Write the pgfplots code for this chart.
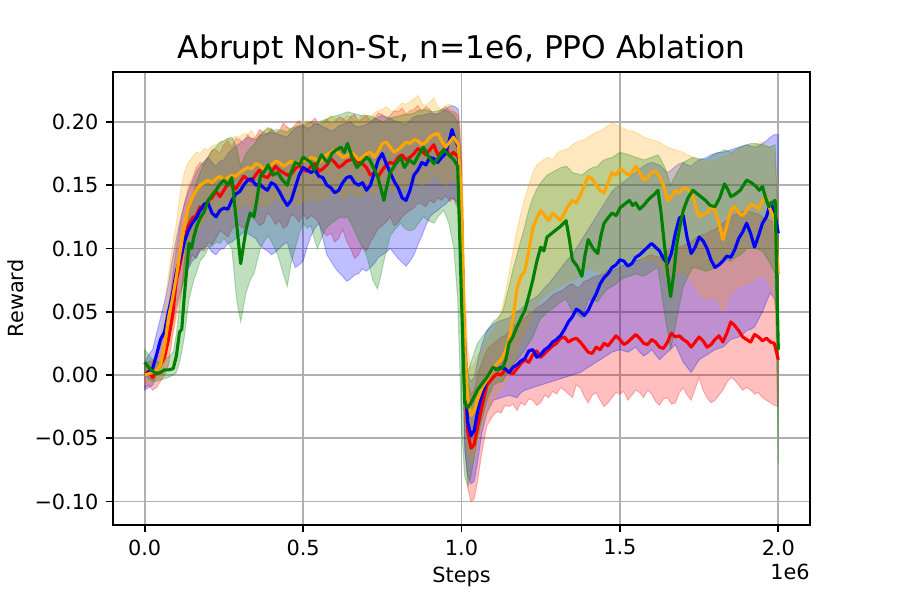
\documentclass[border=0pt]{standalone}
\usepackage{fontspec}
\setmainfont{DejaVu Sans}
\usepackage{pgfplots}
\usepackage{pgfplotstable}
\usepgfplotslibrary{fillbetween}
\pgfplotsset{compat=1.18}

\definecolor{mplorange}{RGB}{255,165,0}
\definecolor{mplgreen}{RGB}{0,128,0}
\definecolor{gridgray}{RGB}{176,176,176}

% columns: step (1e6), mean, lower band, upper band
\pgfplotstableread{
x m lo hi
0.000 0.000 -0.010 0.008
0.0125 0.003 -0.008 0.011
0.025 -0.002 -0.012 0.010
0.0375 0.004 -0.010 0.018
0.050 0.008 -0.005 0.022
0.0625 0.014 0.000 0.034
0.075 0.028 0.008 0.050
0.0875 0.046 0.030 0.078
0.100 0.075 0.050 0.100
0.1125 0.088 0.062 0.120
0.125 0.106 0.080 0.135
0.1375 0.118 0.085 0.148
0.150 0.124 0.095 0.155
0.1625 0.126 0.092 0.164
0.175 0.133 0.100 0.168
0.1875 0.131 0.098 0.166
0.200 0.138 0.105 0.172
0.2125 0.140 0.103 0.178
0.225 0.145 0.108 0.178
0.2375 0.141 0.114 0.175
0.250 0.146 0.112 0.182
0.2625 0.151 0.109 0.185
0.275 0.150 0.115 0.180
0.2875 0.147 0.119 0.187
0.300 0.152 0.118 0.186
0.3125 0.157 0.116 0.183
0.325 0.155 0.120 0.190
0.3375 0.153 0.126 0.186
0.350 0.158 0.122 0.188
0.3625 0.162 0.118 0.194
0.375 0.157 0.120 0.192
0.3875 0.156 0.128 0.190
0.400 0.160 0.125 0.195
0.4125 0.165 0.119 0.191
0.425 0.162 0.122 0.193
0.4375 0.160 0.116 0.199
0.450 0.158 0.118 0.196
0.4625 0.159 0.127 0.194
0.475 0.163 0.125 0.198
0.4875 0.166 0.121 0.201
0.500 0.162 0.128 0.196
0.5125 0.161 0.123 0.199
0.525 0.165 0.126 0.200
0.5375 0.167 0.124 0.203
0.550 0.161 0.120 0.198
0.5625 0.163 0.113 0.199
0.575 0.166 0.110 0.202
0.5875 0.171 0.112 0.198
0.600 0.168 0.105 0.200
0.6125 0.164 0.108 0.204
0.625 0.166 0.115 0.203
0.6375 0.169 0.106 0.200
0.650 0.170 0.100 0.204
0.6625 0.173 0.092 0.206
0.675 0.168 0.095 0.200
0.6875 0.167 0.102 0.203
0.700 0.164 0.098 0.205
0.7125 0.158 0.105 0.201
0.725 0.160 0.110 0.203
0.7375 0.157 0.116 0.207
0.750 0.162 0.118 0.206
0.7625 0.166 0.121 0.203
0.775 0.168 0.125 0.205
0.7875 0.167 0.118 0.209
0.800 0.172 0.120 0.208
0.8125 0.174 0.125 0.211
0.825 0.170 0.128 0.206
0.8375 0.172 0.130 0.209
0.850 0.175 0.132 0.210
0.8625 0.179 0.136 0.213
0.875 0.177 0.135 0.208
0.8875 0.174 0.133 0.212
0.900 0.178 0.138 0.210
0.9125 0.182 0.136 0.205
0.925 0.174 0.140 0.207
0.9375 0.176 0.138 0.210
0.950 0.180 0.142 0.212
0.9625 0.173 0.137 0.209
0.975 0.176 0.140 0.208
0.990 0.172 0.130 0.205
1.000 0.120 0.060 0.170
1.010 0.000 -0.050 0.050
1.020 -0.045 -0.090 -0.005
1.030 -0.058 -0.100 -0.015
1.040 -0.055 -0.098 -0.012
1.050 -0.042 -0.085 0.000
1.065 -0.025 -0.060 0.010
1.080 -0.008 -0.040 0.020
1.100 -0.002 -0.032 0.025
1.1125 0.001 -0.029 0.027
1.125 0.000 -0.030 0.030
1.1375 0.004 -0.024 0.031
1.150 0.002 -0.025 0.035
1.1625 0.001 -0.023 0.039
1.175 0.005 -0.028 0.040
1.1875 0.009 -0.022 0.042
1.200 0.012 -0.024 0.045
1.2125 0.010 -0.019 0.048
1.225 0.016 -0.020 0.050
1.2375 0.019 -0.024 0.053
1.250 0.014 -0.022 0.055
1.2625 0.017 -0.016 0.057
1.275 0.020 -0.018 0.060
1.2875 0.023 -0.013 0.063
1.300 0.025 -0.015 0.065
1.3125 0.029 -0.010 0.066
1.325 0.030 -0.012 0.068
1.3375 0.026 -0.015 0.071
1.350 0.028 -0.018 0.072
1.3625 0.029 -0.008 0.069
1.375 0.026 -0.010 0.070
1.3875 0.022 -0.017 0.074
1.400 0.018 -0.022 0.075
1.4125 0.017 -0.016 0.077
1.425 0.022 -0.014 0.078
1.4375 0.020 -0.020 0.079
1.450 0.025 -0.025 0.080
1.4625 0.023 -0.022 0.083
1.475 0.027 -0.018 0.082
1.4875 0.031 -0.014 0.084
1.500 0.028 -0.015 0.085
1.5125 0.024 -0.013 0.087
1.525 0.026 -0.020 0.088
1.5375 0.029 -0.016 0.089
1.550 0.032 -0.012 0.090
1.5625 0.029 -0.014 0.091
1.575 0.025 -0.018 0.092
1.5875 0.024 -0.012 0.094
1.600 0.028 -0.015 0.095
1.6125 0.026 -0.021 0.094
1.625 0.022 -0.024 0.093
1.6375 0.021 -0.019 0.096
1.650 0.026 -0.018 0.098
1.6625 0.033 -0.023 0.099
1.675 0.030 -0.022 0.100
1.6875 0.031 -0.014 0.101
1.700 0.028 -0.010 0.102
1.7125 0.026 -0.016 0.104
1.725 0.022 -0.020 0.105
1.7375 0.026 -0.011 0.108
1.750 0.030 -0.002 0.110
1.7625 0.027 -0.012 0.111
1.775 0.022 -0.018 0.112
1.7875 0.024 -0.022 0.114
1.800 0.028 -0.020 0.115
1.8125 0.031 -0.016 0.118
1.825 0.026 -0.012 0.120
1.8375 0.033 -0.006 0.122
1.850 0.042 -0.002 0.125
1.8625 0.039 -0.004 0.127
1.875 0.035 -0.008 0.128
1.8875 0.030 -0.012 0.129
1.900 0.028 -0.010 0.130
1.9125 0.026 -0.012 0.129
1.925 0.032 -0.015 0.128
1.9375 0.030 -0.014 0.127
1.950 0.027 -0.018 0.125
1.9625 0.029 -0.020 0.124
1.975 0.026 -0.022 0.122
1.9875 0.025 -0.024 0.120
2.000 0.012 -0.025 0.110
}\redrun

\pgfplotstableread{
x m lo hi
0.000 0.000 -0.012 0.010
0.0125 0.002 -0.010 0.016
0.025 0.005 -0.008 0.020
0.0375 0.016 0.000 0.033
0.050 0.028 0.010 0.045
0.0625 0.034 0.020 0.058
0.075 0.050 0.028 0.072
0.0875 0.064 0.041 0.092
0.100 0.082 0.055 0.108
0.1125 0.092 0.066 0.123
0.125 0.105 0.075 0.135
0.1375 0.114 0.084 0.145
0.150 0.120 0.090 0.152
0.1625 0.124 0.093 0.160
0.175 0.130 0.098 0.165
0.1875 0.135 0.101 0.169
0.200 0.136 0.102 0.172
0.2125 0.128 0.097 0.168
0.225 0.125 0.095 0.165
0.2375 0.130 0.099 0.169
0.250 0.132 0.100 0.170
0.2625 0.131 0.104 0.175
0.275 0.138 0.105 0.178
0.2875 0.143 0.108 0.181
0.300 0.145 0.110 0.183
0.3125 0.150 0.113 0.186
0.325 0.154 0.112 0.188
0.3375 0.155 0.110 0.187
0.350 0.150 0.108 0.186
0.3625 0.151 0.103 0.189
0.375 0.148 0.100 0.190
0.3875 0.146 0.098 0.191
0.400 0.152 0.095 0.192
0.4125 0.150 0.097 0.191
0.425 0.145 0.100 0.190
0.4375 0.139 0.103 0.189
0.450 0.134 0.105 0.188
0.4625 0.138 0.094 0.192
0.475 0.148 0.085 0.195
0.4875 0.158 0.087 0.196
0.500 0.164 0.090 0.197
0.5125 0.162 0.101 0.195
0.525 0.160 0.110 0.196
0.5375 0.162 0.116 0.199
0.550 0.157 0.120 0.198
0.5625 0.156 0.108 0.196
0.575 0.150 0.095 0.195
0.5875 0.148 0.090 0.193
0.600 0.144 0.085 0.194
0.6125 0.146 0.081 0.197
0.625 0.152 0.078 0.198
0.6375 0.156 0.074 0.199
0.650 0.157 0.076 0.200
0.6625 0.152 0.079 0.197
0.675 0.150 0.080 0.196
0.6875 0.152 0.084 0.197
0.700 0.146 0.082 0.198
0.7125 0.150 0.085 0.200
0.725 0.160 0.088 0.202
0.7375 0.170 0.093 0.204
0.750 0.175 0.095 0.205
0.7625 0.167 0.097 0.204
0.775 0.160 0.100 0.203
0.7875 0.153 0.096 0.201
0.800 0.148 0.092 0.200
0.8125 0.140 0.089 0.199
0.825 0.138 0.086 0.198
0.8375 0.146 0.090 0.201
0.850 0.158 0.095 0.204
0.8625 0.162 0.103 0.205
0.875 0.168 0.110 0.205
0.8875 0.166 0.118 0.206
0.900 0.172 0.125 0.207
0.9125 0.171 0.128 0.207
0.925 0.168 0.130 0.206
0.9375 0.172 0.133 0.208
0.950 0.175 0.135 0.210
0.960 0.184 0.138 0.212
0.970 0.194 0.140 0.213
0.980 0.186 0.138 0.212
0.990 0.180 0.135 0.210
1.000 0.120 0.050 0.170
1.010 0.000 -0.060 0.050
1.020 -0.038 -0.080 0.000
1.030 -0.048 -0.086 -0.005
1.040 -0.044 -0.084 -0.002
1.050 -0.030 -0.070 0.010
1.065 -0.015 -0.045 0.025
1.080 -0.004 -0.030 0.035
1.100 0.006 -0.020 0.040
1.1125 0.004 -0.019 0.042
1.125 0.006 -0.018 0.043
1.1375 0.005 -0.017 0.044
1.150 0.002 -0.016 0.045
1.1625 0.006 -0.017 0.048
1.175 0.008 -0.018 0.050
1.1875 0.011 -0.014 0.052
1.200 0.013 -0.012 0.055
1.2125 0.019 -0.011 0.058
1.225 0.020 -0.010 0.060
1.2375 0.014 -0.009 0.062
1.250 0.016 -0.008 0.065
1.2625 0.020 -0.007 0.069
1.275 0.022 -0.006 0.072
1.2875 0.026 -0.005 0.076
1.300 0.028 -0.004 0.080
1.3125 0.031 -0.003 0.084
1.325 0.036 -0.002 0.088
1.3375 0.042 -0.001 0.092
1.350 0.046 0.000 0.095
1.3625 0.052 0.001 0.100
1.375 0.050 0.002 0.105
1.3875 0.047 0.004 0.110
1.400 0.051 0.006 0.115
1.4125 0.058 0.008 0.120
1.425 0.064 0.010 0.125
1.4375 0.072 0.012 0.130
1.450 0.077 0.014 0.135
1.4625 0.080 0.016 0.140
1.475 0.085 0.018 0.145
1.4875 0.087 0.019 0.148
1.500 0.091 0.020 0.150
1.5125 0.090 0.019 0.153
1.525 0.086 0.018 0.155
1.5375 0.088 0.020 0.158
1.550 0.093 0.022 0.160
1.5625 0.095 0.018 0.163
1.575 0.098 0.015 0.165
1.5875 0.101 0.017 0.167
1.600 0.104 0.020 0.168
1.6125 0.101 0.016 0.167
1.625 0.098 0.012 0.166
1.6375 0.092 0.015 0.163
1.650 0.088 0.018 0.160
1.6625 0.096 0.021 0.162
1.675 0.112 0.024 0.165
1.6875 0.124 0.017 0.167
1.700 0.126 0.010 0.168
1.7125 0.108 0.006 0.166
1.725 0.096 0.002 0.165
1.7375 0.101 0.007 0.168
1.750 0.109 0.012 0.170
1.7625 0.106 0.014 0.171
1.775 0.100 0.016 0.172
1.7875 0.091 0.018 0.174
1.800 0.085 0.020 0.175
1.8125 0.087 0.021 0.176
1.825 0.090 0.022 0.176
1.8375 0.094 0.025 0.177
1.850 0.093 0.028 0.178
1.8625 0.099 0.029 0.179
1.875 0.108 0.030 0.180
1.8875 0.113 0.032 0.181
1.900 0.120 0.035 0.182
1.9125 0.112 0.036 0.181
1.925 0.101 0.038 0.180
1.9375 0.110 0.044 0.181
1.950 0.120 0.050 0.183
1.9625 0.125 0.058 0.185
1.975 0.136 0.065 0.188
1.9875 0.130 0.060 0.190
2.000 0.112 0.040 0.190
}\bluerun

\pgfplotstableread{
x m lo hi
0.000 0.000 -0.008 0.008
0.0125 0.001 -0.007 0.010
0.025 0.002 -0.006 0.012
0.0375 0.004 -0.004 0.020
0.050 0.008 -0.002 0.030
0.0625 0.022 0.008 0.052
0.075 0.045 0.020 0.080
0.0875 0.060 0.032 0.102
0.100 0.078 0.045 0.120
0.1125 0.098 0.062 0.145
0.125 0.118 0.080 0.160
0.1375 0.132 0.094 0.168
0.150 0.140 0.105 0.172
0.1625 0.146 0.112 0.176
0.175 0.150 0.118 0.175
0.1875 0.152 0.122 0.179
0.200 0.154 0.125 0.178
0.2125 0.152 0.124 0.181
0.225 0.155 0.127 0.182
0.2375 0.157 0.126 0.184
0.250 0.154 0.128 0.185
0.2625 0.156 0.131 0.187
0.275 0.158 0.130 0.186
0.2875 0.157 0.129 0.189
0.300 0.160 0.132 0.188
0.3125 0.162 0.135 0.191
0.325 0.164 0.134 0.190
0.3375 0.163 0.133 0.193
0.350 0.167 0.136 0.188
0.3625 0.166 0.135 0.191
0.375 0.163 0.133 0.192
0.3875 0.164 0.134 0.196
0.400 0.166 0.136 0.194
0.4125 0.169 0.139 0.191
0.425 0.168 0.138 0.192
0.4375 0.165 0.135 0.195
0.450 0.167 0.136 0.196
0.4625 0.169 0.138 0.193
0.475 0.166 0.134 0.195
0.4875 0.168 0.136 0.199
0.500 0.170 0.138 0.198
0.5125 0.169 0.137 0.201
0.525 0.172 0.140 0.200
0.5375 0.171 0.141 0.198
0.550 0.168 0.137 0.197
0.5625 0.171 0.139 0.200
0.575 0.174 0.142 0.202
0.5875 0.176 0.144 0.205
0.600 0.178 0.145 0.203
0.6125 0.175 0.143 0.200
0.625 0.172 0.140 0.201
0.6375 0.173 0.141 0.205
0.650 0.176 0.144 0.204
0.6625 0.174 0.143 0.201
0.675 0.170 0.140 0.202
0.6875 0.172 0.142 0.206
0.700 0.175 0.145 0.205
0.7125 0.176 0.146 0.203
0.725 0.172 0.142 0.207
0.7375 0.177 0.145 0.209
0.750 0.183 0.150 0.210
0.7625 0.184 0.151 0.212
0.775 0.180 0.148 0.209
0.7875 0.176 0.145 0.208
0.800 0.178 0.146 0.212
0.8125 0.181 0.149 0.215
0.825 0.184 0.150 0.214
0.8375 0.183 0.148 0.216
0.850 0.186 0.152 0.218
0.8625 0.185 0.153 0.221
0.875 0.182 0.150 0.214
0.8875 0.184 0.152 0.213
0.900 0.188 0.155 0.216
0.9125 0.190 0.158 0.219
0.925 0.191 0.156 0.212
0.9375 0.185 0.152 0.210
0.950 0.180 0.150 0.213
0.9625 0.184 0.153 0.214
0.975 0.188 0.155 0.210
0.990 0.182 0.150 0.206
1.000 0.140 0.080 0.190
1.010 0.020 -0.030 0.070
1.020 -0.020 -0.060 0.020
1.030 -0.032 -0.070 0.005
1.040 -0.028 -0.065 0.008
1.050 -0.020 -0.055 0.015
1.065 -0.010 -0.040 0.020
1.080 -0.004 -0.030 0.028
1.100 0.005 -0.020 0.035
1.1125 0.009 -0.015 0.042
1.125 0.012 -0.010 0.050
1.1375 0.018 -0.006 0.064
1.150 0.028 0.000 0.080
1.1625 0.045 0.010 0.098
1.175 0.068 0.020 0.115
1.1875 0.078 0.028 0.128
1.200 0.082 0.035 0.140
1.2125 0.098 0.042 0.150
1.225 0.116 0.050 0.160
1.2375 0.124 0.055 0.166
1.250 0.130 0.060 0.168
1.2625 0.126 0.062 0.171
1.275 0.122 0.065 0.172
1.2875 0.128 0.067 0.170
1.300 0.125 0.070 0.175
1.3125 0.122 0.071 0.177
1.325 0.128 0.072 0.178
1.3375 0.134 0.074 0.179
1.350 0.138 0.075 0.182
1.3625 0.136 0.076 0.184
1.375 0.142 0.078 0.185
1.3875 0.150 0.081 0.186
1.400 0.157 0.085 0.188
1.4125 0.155 0.084 0.190
1.425 0.150 0.082 0.192
1.4375 0.146 0.081 0.193
1.450 0.144 0.080 0.195
1.4625 0.152 0.084 0.197
1.475 0.160 0.088 0.199
1.4875 0.158 0.090 0.198
1.500 0.163 0.092 0.196
1.5125 0.161 0.091 0.195
1.525 0.158 0.090 0.193
1.5375 0.160 0.093 0.193
1.550 0.165 0.095 0.192
1.5625 0.160 0.092 0.190
1.575 0.154 0.090 0.188
1.5875 0.156 0.091 0.187
1.600 0.160 0.092 0.186
1.6125 0.161 0.090 0.185
1.625 0.157 0.088 0.184
1.6375 0.150 0.082 0.182
1.650 0.138 0.075 0.180
1.6625 0.141 0.077 0.179
1.675 0.146 0.080 0.178
1.6875 0.144 0.081 0.177
1.700 0.148 0.082 0.176
1.7125 0.147 0.079 0.174
1.725 0.144 0.075 0.173
1.7375 0.135 0.070 0.171
1.750 0.125 0.065 0.170
1.7625 0.127 0.062 0.169
1.775 0.128 0.060 0.168
1.7875 0.133 0.061 0.169
1.800 0.130 0.062 0.170
1.8125 0.120 0.056 0.171
1.825 0.107 0.050 0.172
1.8375 0.118 0.058 0.173
1.850 0.130 0.065 0.175
1.8625 0.133 0.068 0.176
1.875 0.128 0.070 0.178
1.8875 0.126 0.071 0.179
1.900 0.130 0.072 0.180
1.9125 0.135 0.074 0.181
1.925 0.134 0.075 0.182
1.9375 0.131 0.078 0.183
1.950 0.138 0.080 0.184
1.9625 0.140 0.076 0.182
1.975 0.130 0.070 0.180
1.9875 0.124 0.060 0.176
2.000 0.080 0.020 0.150
}\orangerun

\pgfplotstableread{
x m lo hi
0.000 0.010 0.000 0.020
0.0125 0.006 -0.003 0.016
0.025 0.003 -0.005 0.012
0.0375 0.001 -0.005 0.011
0.050 0.002 -0.004 0.010
0.0625 0.004 -0.003 0.012
0.075 0.004 -0.002 0.014
0.090 0.005 0.000 0.018
0.100 0.015 0.002 0.032
0.110 0.034 0.010 0.055
0.117 0.036 0.018 0.068
0.125 0.062 0.030 0.090
0.140 0.104 0.060 0.130
0.148 0.100 0.068 0.140
0.155 0.109 0.075 0.145
0.165 0.118 0.082 0.154
0.175 0.124 0.090 0.160
0.188 0.129 0.094 0.168
0.200 0.138 0.100 0.172
0.212 0.142 0.102 0.177
0.225 0.146 0.105 0.180
0.238 0.151 0.104 0.184
0.250 0.154 0.108 0.185
0.263 0.150 0.104 0.187
0.275 0.156 0.100 0.188
0.290 0.120 0.060 0.180
0.303 0.088 0.042 0.165
0.320 0.115 0.065 0.175
0.333 0.128 0.075 0.179
0.345 0.125 0.080 0.182
0.355 0.140 0.090 0.186
0.365 0.157 0.100 0.190
0.378 0.161 0.106 0.193
0.390 0.166 0.110 0.195
0.405 0.158 0.103 0.193
0.420 0.160 0.095 0.194
0.435 0.154 0.082 0.193
0.450 0.150 0.070 0.192
0.462 0.160 0.088 0.195
0.475 0.168 0.100 0.196
0.488 0.166 0.112 0.197
0.500 0.172 0.120 0.198
0.513 0.170 0.116 0.199
0.525 0.168 0.118 0.200
0.535 0.162 0.108 0.198
0.545 0.167 0.100 0.198
0.558 0.174 0.108 0.201
0.570 0.170 0.115 0.202
0.580 0.168 0.118 0.203
0.590 0.175 0.120 0.204
0.605 0.178 0.123 0.205
0.620 0.180 0.125 0.206
0.630 0.176 0.124 0.207
0.640 0.183 0.125 0.208
0.655 0.172 0.118 0.207
0.670 0.164 0.110 0.206
0.685 0.168 0.102 0.205
0.700 0.172 0.095 0.205
0.710 0.170 0.085 0.205
0.720 0.165 0.075 0.204
0.735 0.157 0.068 0.202
0.745 0.148 0.078 0.201
0.755 0.138 0.090 0.200
0.765 0.150 0.100 0.202
0.775 0.160 0.110 0.203
0.790 0.166 0.115 0.204
0.808 0.172 0.120 0.205
0.820 0.164 0.116 0.206
0.835 0.170 0.114 0.206
0.850 0.167 0.115 0.207
0.865 0.174 0.120 0.209
0.880 0.180 0.125 0.210
0.895 0.173 0.122 0.209
0.913 0.167 0.120 0.208
0.928 0.172 0.126 0.209
0.944 0.178 0.130 0.210
0.960 0.174 0.120 0.208
0.976 0.170 0.100 0.205
0.988 0.165 0.060 0.200
1.000 0.060 -0.040 0.130
1.010 -0.022 -0.080 0.010
1.020 -0.026 -0.088 0.002
1.030 -0.022 -0.080 0.010
1.050 -0.012 -0.050 0.025
1.080 -0.002 -0.020 0.035
1.100 0.006 -0.008 0.042
1.115 0.004 -0.006 0.045
1.130 0.006 -0.005 0.050
1.140 0.012 0.000 0.060
1.150 0.025 0.005 0.070
1.162 0.030 0.008 0.083
1.175 0.038 0.012 0.095
1.188 0.045 0.016 0.107
1.200 0.051 0.020 0.118
1.212 0.062 0.025 0.130
1.225 0.075 0.030 0.140
1.238 0.090 0.038 0.147
1.250 0.101 0.045 0.152
1.260 0.098 0.047 0.155
1.270 0.109 0.050 0.158
1.285 0.112 0.052 0.160
1.300 0.115 0.055 0.162
1.315 0.118 0.058 0.164
1.330 0.122 0.060 0.165
1.340 0.108 0.055 0.163
1.350 0.091 0.050 0.160
1.365 0.086 0.048 0.159
1.380 0.078 0.045 0.158
1.390 0.095 0.052 0.160
1.400 0.107 0.060 0.162
1.415 0.100 0.059 0.164
1.430 0.096 0.058 0.165
1.440 0.110 0.062 0.168
1.450 0.120 0.065 0.170
1.462 0.124 0.068 0.171
1.475 0.128 0.070 0.172
1.488 0.126 0.072 0.174
1.500 0.132 0.075 0.176
1.515 0.135 0.077 0.175
1.530 0.138 0.078 0.174
1.540 0.134 0.079 0.173
1.550 0.136 0.080 0.172
1.562 0.131 0.079 0.171
1.575 0.134 0.078 0.170
1.588 0.138 0.080 0.171
1.600 0.141 0.082 0.172
1.610 0.143 0.084 0.173
1.620 0.146 0.085 0.174
1.630 0.128 0.068 0.170
1.640 0.104 0.050 0.165
1.650 0.082 0.035 0.158
1.660 0.062 0.020 0.150
1.670 0.080 0.032 0.155
1.680 0.104 0.045 0.160
1.690 0.118 0.058 0.164
1.700 0.130 0.070 0.168
1.715 0.140 0.078 0.170
1.730 0.146 0.085 0.172
1.750 0.142 0.084 0.171
1.770 0.138 0.082 0.170
1.785 0.134 0.083 0.172
1.800 0.133 0.085 0.175
1.815 0.140 0.088 0.176
1.830 0.151 0.092 0.178
1.840 0.147 0.091 0.177
1.850 0.141 0.090 0.176
1.865 0.143 0.093 0.178
1.880 0.146 0.095 0.180
1.890 0.150 0.097 0.181
1.900 0.154 0.100 0.182
1.915 0.152 0.100 0.183
1.930 0.149 0.100 0.183
1.940 0.146 0.099 0.182
1.950 0.149 0.098 0.182
1.960 0.140 0.094 0.181
1.970 0.133 0.090 0.180
1.980 0.136 0.085 0.181
1.990 0.138 0.080 0.182
2.000 0.020 -0.070 0.110
}\greenrun

\pgfplotsset{
  band/.style={draw=#1, fill=#1, draw opacity=0.25, fill opacity=0.25, line width=0.5pt},
  mean/.style={#1, line width=1.5pt, line join=round},
}

\begin{document}
\begin{tikzpicture}
\begin{axis}[
    at={(54.24pt,36pt)}, anchor=south west,
    width=334.56pt, height=217.44pt, scale only axis,
    xmin=-0.1, xmax=2.1,
    ymin=-0.1186, ymax=0.2395,
    xtick={0,0.5,1,1.5,2},
    xticklabels={0.0,0.5,1.0,1.5,2.0},
    ytick={-0.1,-0.05,0,0.05,0.1,0.15,0.2},
    yticklabels={−0.10,−0.05,0.00,0.05,0.10,0.15,0.20},
    tick align=outside, major tick length=3.5pt,
    tick style={black, line width=0.8pt},
    xtick pos=bottom, ytick pos=left,
    axis line style={line width=0.8pt, black},
    grid=major,
    major grid style={gridgray, line width=0.8pt},
    ticklabel style={font=\fontsize{10}{12}\selectfont},
    title={Abrupt Non-St, n=1e6, PPO Ablation},
    title style={font=\fontsize{15}{18}\selectfont, at={(axis description cs:0.5,1)}, anchor=base, yshift=0.4pt},
    xlabel={Steps},
    xlabel style={font=\fontsize{10}{12}\selectfont, at={(axis description cs:0.5,0)}, anchor=base, yshift=-27.8pt},
    ylabel={Reward},
    ylabel style={font=\fontsize{10}{12}\selectfont, at={(axis description cs:-0.1291,0.5)}, anchor=base},
]
% bands
\addplot[draw=none, name path=rlo] table[x=x, y=lo] {\redrun};
\addplot[draw=none, name path=rhi] table[x=x, y=hi] {\redrun};
\addplot[band=red] fill between[of=rhi and rlo];
\addplot[draw=none, name path=blo] table[x=x, y=lo] {\bluerun};
\addplot[draw=none, name path=bhi] table[x=x, y=hi] {\bluerun};
\addplot[band=blue] fill between[of=bhi and blo];
\addplot[draw=none, name path=olo] table[x=x, y=lo] {\orangerun};
\addplot[draw=none, name path=ohi] table[x=x, y=hi] {\orangerun};
\addplot[band=mplorange] fill between[of=ohi and olo];
\addplot[draw=none, name path=glo] table[x=x, y=lo] {\greenrun};
\addplot[draw=none, name path=ghi] table[x=x, y=hi] {\greenrun};
\addplot[band=mplgreen] fill between[of=ghi and glo];
% means
\addplot[mean=red] table[x=x, y=m] {\redrun};
\addplot[mean=blue] table[x=x, y=m] {\bluerun};
\addplot[mean=mplorange] table[x=x, y=m] {\orangerun};
\addplot[mean=mplgreen] table[x=x, y=m] {\greenrun};
\end{axis}
\node[anchor=base east, font=\fontsize{10}{12}\selectfont, inner sep=0pt] at (388.8pt,9.6pt) {1e6};
\path (0,0) rectangle (432pt,288pt);
\end{tikzpicture}
\end{document}
